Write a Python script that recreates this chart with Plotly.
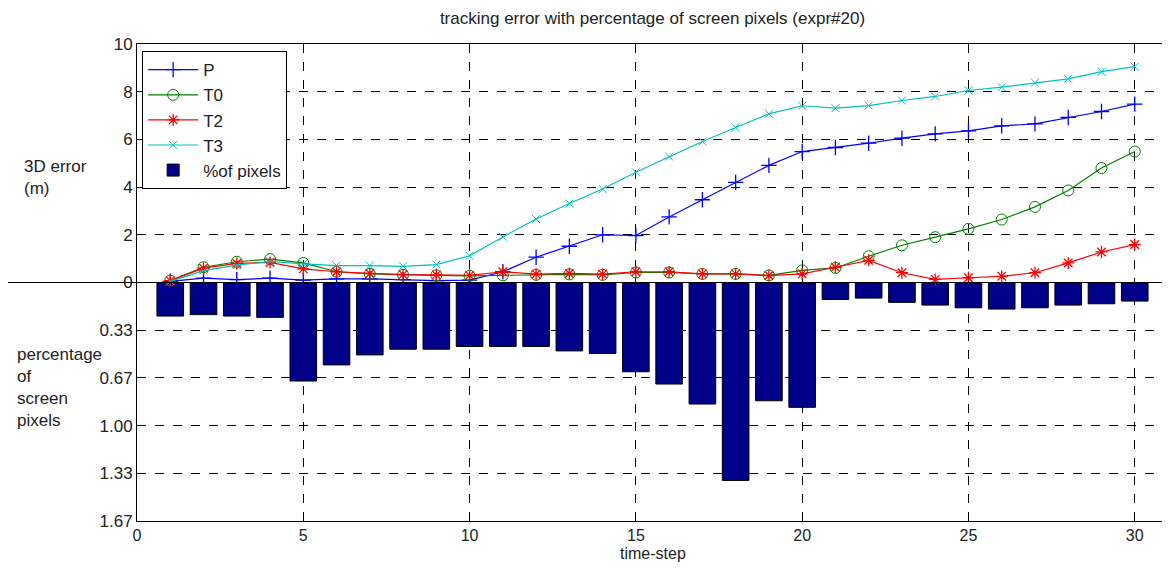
import plotly.graph_objects as go

time_step = list(range(1, 31))

err_P = [0.05, 0.18, 0.12, 0.18, 0.10, 0.15, 0.15, 0.12, 0.08, 0.10,
         0.45, 1.06, 1.52, 2.00, 1.97, 2.75, 3.47, 4.20, 4.91, 5.49,
         5.66, 5.84, 6.05, 6.23, 6.36, 6.57, 6.65, 6.92, 7.17, 7.48]
err_T0 = [0.08, 0.64, 0.87, 0.98, 0.82, 0.45, 0.36, 0.32, 0.30, 0.28,
          0.30, 0.32, 0.34, 0.32, 0.42, 0.42, 0.36, 0.36, 0.30, 0.51,
          0.61, 1.10, 1.56, 1.90, 2.25, 2.64, 3.17, 3.86, 4.80, 5.49]
err_T2 = [0.08, 0.60, 0.80, 0.84, 0.57, 0.45, 0.38, 0.33, 0.32, 0.30,
          0.45, 0.35, 0.38, 0.35, 0.45, 0.45, 0.36, 0.36, 0.29, 0.36,
          0.64, 0.93, 0.41, 0.13, 0.20, 0.26, 0.41, 0.82, 1.28, 1.59]
err_T3 = [0.05, 0.50, 0.73, 0.88, 0.78, 0.71, 0.71, 0.68, 0.75, 1.12,
          1.91, 2.66, 3.31, 3.92, 4.62, 5.28, 5.91, 6.50, 7.07, 7.41,
          7.31, 7.42, 7.63, 7.80, 8.05, 8.19, 8.38, 8.54, 8.84, 9.05]
pct_pixels = [0.235, 0.225, 0.235, 0.244, 0.690, 0.577, 0.507, 0.467, 0.467, 0.448,
              0.448, 0.448, 0.479, 0.497, 0.625, 0.711, 0.851, 1.386, 0.828, 0.874,
              0.119, 0.109, 0.139, 0.158, 0.177, 0.186, 0.177, 0.158, 0.149, 0.130]

err_ticks = [0, 2, 4, 6, 8, 10]
pct_ticks = ["0.33", "0.67", "1.00", "1.33", "1.67"]
x_ticks = [0, 5, 10, 15, 20, 25, 30]

PCT_MAX = 1.67
Y_MAX = 10.0
scale = Y_MAX / PCT_MAX
bar_y = [-v * scale for v in pct_pixels]

font_family = "Liberation Sans, Arial, sans-serif"
txt_color = "#222222"

fig = go.Figure()

series = [
    ("P", err_P, "#0000FF", dict(symbol="cross-thin", size=11, line=dict(width=1.3, color="#0000FF"))),
    ("T0", err_T0, "#008000", dict(symbol="circle-open", size=11, line=dict(width=1, color="#008000"))),
    ("T2", err_T2, "#FF0000", dict(symbol="asterisk", size=10, line=dict(width=1.3, color="#FF0000"))),
    ("T3", err_T3, "#00BFBF", dict(symbol="x-thin", size=8, line=dict(width=1, color="#00BFBF"))),
]
for name, vals, color, mk in series:
    fig.add_trace(go.Scatter(x=time_step, y=vals, mode="lines+markers", name=name,
                             line=dict(color=color, width=1.2), marker=dict(color=color, **mk)))

fig.add_trace(go.Bar(x=time_step, y=bar_y, name="%of pixels", width=0.8,
                     marker=dict(color="#000088", line=dict(color="black", width=1))))

tickvals = [-Y_MAX + i * 2 for i in range(5)] + err_ticks
ticktext = list(reversed(pct_ticks)) + [str(t) for t in err_ticks]

W, H = 1162, 554
L, T, B, R = 129, 36, 41, 2
plot_w = W - L - R
plot_h = H - T - B

fig.update_layout(
    width=W, height=H,
    margin=dict(l=L, r=R, t=T, b=B),
    paper_bgcolor="white", plot_bgcolor="white",
    font=dict(family=font_family, size=17, color=txt_color),
    title=dict(text="tracking error with percentage of screen pixels (expr#20)",
               x=(L + plot_w / 2) / W, xanchor="center", y=1 - 10 / H, yanchor="middle",
               font=dict(size=17, family=font_family, color=txt_color)),
    showlegend=True,
    legend=dict(x=0.005, y=0.985, xanchor="left", yanchor="top",
                bgcolor="white", bordercolor="black", borderwidth=1,
                font=dict(size=17, family=font_family, color=txt_color),
                tracegroupgap=0, itemwidth=50),
    bargap=0.2,
    xaxis=dict(range=[0, 31], tickvals=x_ticks, ticks="inside", ticklen=5, tickcolor="black",
               showline=True, linecolor="black", linewidth=1, mirror="ticks",
               showgrid=True, gridcolor="black", griddash="dash", gridwidth=1,
               zeroline=False, tickfont=dict(size=16)),
    yaxis=dict(range=[-Y_MAX, Y_MAX], tickvals=tickvals, ticktext=ticktext, ticks="inside", ticklen=5,
               tickcolor="black", showline=True, linecolor="black", linewidth=1, mirror="ticks",
               showgrid=True, gridcolor="black", griddash="dash", gridwidth=1,
               zeroline=False, tickfont=dict(size=17)),
)

fig.add_shape(type="line", xref="paper", yref="y", x0=-L / plot_w, x1=1, y0=0, y1=0,
              line=dict(color="black", width=1), layer="above")

fig.add_annotation(text="time-step", xref="paper", yref="paper",
                   x=0.5, y=-(H - 9 - (T + plot_h)) / plot_h,
                   xanchor="center", yanchor="middle", showarrow=False,
                   font=dict(size=16, family=font_family, color=txt_color))
fig.add_annotation(text="3D error<br>(m)", xref="paper", yref="y", x=(14 - L) / plot_w, y=4.4,
                   xanchor="left", yanchor="middle", align="left", showarrow=False,
                   font=dict(size=17, family=font_family, color=txt_color))
fig.add_annotation(text="percentage<br>of<br>screen<br>pixels", xref="paper", yref="y",
                   x=(7 - L) / plot_w, y=-4.4,
                   xanchor="left", yanchor="middle", align="left", showarrow=False,
                   font=dict(size=17, family=font_family, color=txt_color))

fig.write_html("out.html")
